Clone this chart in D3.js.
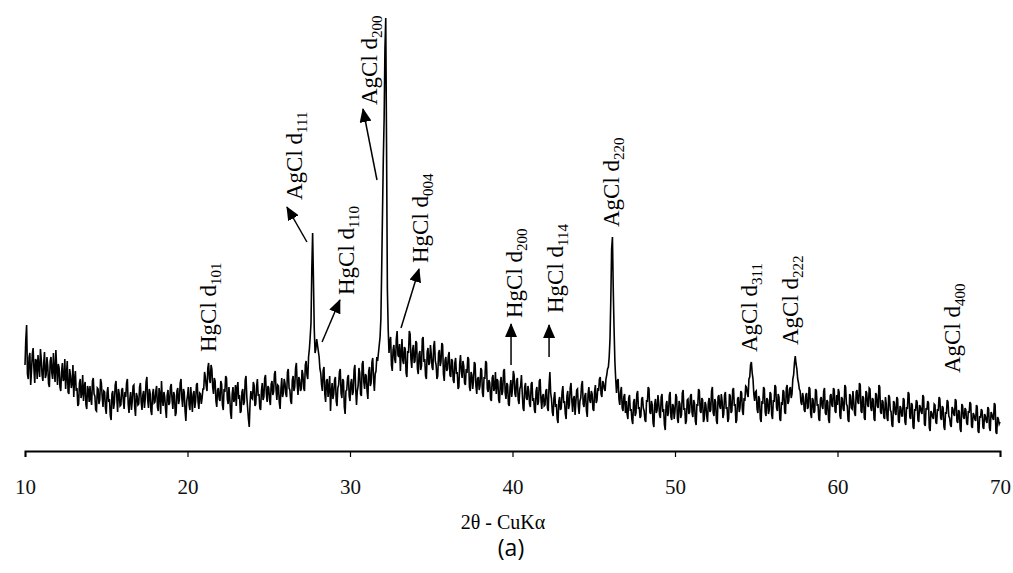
<!DOCTYPE html>
<html>
<head>
<meta charset="utf-8">
<script src="https://cdn.jsdelivr.net/npm/d3@7/dist/d3.min.js"></script>
<style>
	body { margin: 0; background: #fff; }
	#chart { width: 1013px; height: 573px; }
	svg text { font-family: "Liberation Serif", serif; }
</style>
</head>
<body>
<div id="chart"></div>
<script>
// XRD pattern, sampled every 0.05 degree (2 theta) from 10 to 70, one row per degree
var angleStart = 10;
var angleStep = 0.05;

var intensity = [
	84, 110, 124, 75, 70, 92, 96, 64, 78, 95, 101, 80, 66, 90, 88, 70, 94, 82, 72, 100,
	90, 74, 68, 86, 97, 71, 74, 92, 83, 65, 62, 88, 92, 76, 70, 96, 79, 67, 99, 81,
	64, 85, 81, 62, 58, 77, 86, 68, 70, 90, 60, 74, 88, 57, 55, 80, 73, 61, 66, 84,
	52, 70, 78, 58, 61, 43, 45, 66, 70, 51, 56, 74, 48, 62, 67, 44, 40, 63, 59, 47,
	63, 50, 44, 68, 71, 55, 53, 39, 38, 61, 60, 45, 49, 70, 66, 52, 42, 58, 57, 41,
	35, 56, 62, 47, 50, 33, 29, 55, 58, 40, 46, 64, 68, 51, 37, 60, 55, 43, 44, 59,
	61, 48, 40, 57, 52, 66, 70, 45, 36, 50, 57, 39, 48, 63, 64, 42, 33, 56, 53, 44,
	45, 62, 66, 47, 39, 54, 58, 41, 50, 67, 72, 49, 41, 60, 56, 38, 34, 55, 60, 46,
	47, 58, 63, 42, 38, 61, 55, 35, 68, 50, 43, 57, 52, 40, 31, 54, 59, 44, 46, 62,
	65, 49, 40, 57, 54, 33, 36, 58, 61, 45, 49, 66, 70, 51, 42, 60, 57, 38, 28, 48,
	53, 62, 44, 39, 62, 50, 37, 55, 58, 41, 48, 64, 66, 47, 40, 56, 55, 45, 51, 60,
	60, 77, 72, 63, 58, 81, 86, 70, 66, 84, 80, 62, 55, 71, 68, 48, 42, 59, 61, 50,
	48, 68, 65, 44, 39, 60, 57, 73, 71, 50, 45, 62, 52, 36, 30, 55, 62, 47, 50, 64,
	43, 61, 67, 50, 54, 36, 38, 57, 60, 44, 47, 69, 73, 52, 41, 30, 22, 46, 58, 51,
	50, 67, 64, 43, 45, 62, 70, 53, 55, 41, 39, 58, 66, 49, 52, 71, 74, 56, 47, 63,
	61, 49, 44, 65, 68, 54, 57, 75, 78, 59, 49, 64, 63, 46, 40, 60, 71, 52, 56, 70,
	66, 55, 52, 77, 80, 61, 59, 48, 45, 69, 73, 58, 62, 81, 86, 65, 54, 72, 69, 58,
	60, 79, 75, 61, 58, 84, 88, 74, 70, 92, 100, 112, 126, 180, 216, 170, 120, 96, 100, 110,
	104, 98, 92, 80, 76, 64, 58, 79, 82, 55, 47, 68, 70, 52, 61, 73, 38, 57, 66, 50,
	55, 69, 72, 48, 43, 61, 64, 77, 80, 56, 51, 70, 68, 42, 35, 58, 59, 71, 74, 53,
	48, 66, 70, 54, 57, 79, 84, 60, 44, 58, 63, 81, 76, 55, 53, 85, 88, 67, 60, 75,
	73, 58, 50, 78, 82, 63, 66, 87, 91, 70, 58, 75, 78, 92, 88, 96, 104, 112, 130, 180,
	236, 290, 330, 400, 431, 300, 160, 120, 96, 108, 112, 84, 78, 99, 104, 90, 86, 110, 118, 94,
	92, 105, 78, 96, 110, 88, 85, 102, 100, 76, 72, 98, 96, 118, 115, 90, 81, 99, 104, 86,
	88, 108, 106, 80, 75, 95, 98, 79, 83, 110, 112, 87, 90, 73, 70, 97, 101, 84, 86, 104,
	95, 82, 79, 103, 108, 88, 84, 70, 73, 96, 99, 83, 87, 106, 104, 75, 68, 89, 92, 78,
	80, 93, 97, 74, 72, 90, 88, 69, 66, 86, 91, 75, 77, 60, 62, 85, 94, 78, 71, 88,
	83, 66, 64, 80, 76, 92, 90, 62, 58, 77, 74, 60, 68, 87, 85, 63, 55, 70, 72, 59,
	63, 81, 79, 56, 52, 72, 70, 88, 86, 60, 57, 69, 66, 50, 48, 71, 74, 58, 61, 77,
	55, 70, 68, 49, 46, 67, 72, 54, 58, 78, 80, 56, 50, 66, 64, 45, 43, 62, 69, 52,
	60, 78, 74, 55, 52, 68, 71, 49, 45, 60, 63, 74, 56, 41, 38, 62, 66, 51, 49, 63,
	58, 45, 42, 65, 67, 48, 51, 39, 36, 58, 62, 44, 47, 68, 70, 50, 40, 53, 55, 43,
	44, 58, 60, 41, 38, 64, 77, 56, 50, 37, 33, 51, 57, 42, 45, 30, 26, 48, 52, 39,
	41, 57, 63, 46, 48, 35, 30, 53, 58, 40, 44, 61, 66, 49, 37, 50, 53, 34, 47, 59,
	60, 43, 35, 48, 51, 64, 68, 45, 42, 53, 56, 38, 32, 55, 62, 49, 46, 58, 55, 40,
	38, 57, 64, 46, 49, 61, 58, 70, 72, 55, 52, 68, 66, 60, 58, 70, 74, 80, 82, 92,
	110, 150, 200, 212, 160, 120, 88, 70, 56, 68, 70, 50, 44, 57, 62, 41, 38, 52, 55, 36,
	48, 35, 30, 51, 54, 38, 40, 29, 25, 47, 50, 33, 36, 55, 58, 40, 42, 31, 33, 50,
	52, 41, 38, 29, 27, 49, 47, 62, 60, 37, 35, 48, 44, 26, 22, 45, 50, 36, 39, 54,
	46, 34, 31, 52, 55, 37, 40, 24, 19, 44, 48, 33, 36, 54, 57, 32, 29, 45, 43, 30,
	38, 55, 52, 30, 26, 48, 45, 31, 34, 56, 59, 39, 41, 25, 28, 49, 50, 35, 37, 53,
	55, 36, 32, 49, 46, 28, 24, 45, 43, 60, 58, 38, 36, 51, 49, 27, 30, 47, 44, 33,
	27, 46, 51, 37, 39, 58, 62, 36, 33, 50, 47, 28, 25, 52, 54, 43, 40, 55, 48, 31,
	35, 54, 57, 40, 42, 27, 30, 55, 53, 36, 38, 59, 61, 43, 45, 26, 29, 50, 52, 37,
	41, 58, 56, 38, 34, 51, 48, 63, 62, 55, 52, 70, 72, 84, 87, 76, 70, 55, 48, 57,
	58, 40, 36, 53, 50, 30, 27, 48, 45, 62, 60, 37, 33, 51, 49, 35, 39, 57, 55, 34,
	30, 49, 47, 64, 62, 41, 38, 55, 52, 30, 28, 47, 44, 59, 57, 37, 35, 61, 64, 45,
	48, 60, 62, 51, 55, 70, 74, 86, 93, 85, 80, 70, 66, 60, 58, 47, 44, 56, 52, 39,
	37, 54, 56, 40, 42, 62, 60, 35, 31, 51, 49, 36, 38, 60, 58, 43, 45, 30, 28, 50,
	52, 43, 40, 58, 61, 36, 34, 49, 47, 29, 26, 53, 55, 44, 42, 61, 59, 38, 36, 54,
	44, 60, 57, 33, 30, 52, 50, 40, 38, 64, 62, 45, 43, 29, 27, 55, 53, 41, 40, 58,
	48, 36, 33, 57, 59, 47, 45, 66, 64, 38, 36, 53, 51, 31, 29, 58, 56, 44, 42, 61,
	60, 41, 38, 51, 49, 30, 28, 56, 54, 43, 41, 64, 62, 37, 35, 49, 47, 32, 30, 52,
	45, 31, 28, 54, 52, 39, 37, 24, 22, 48, 46, 36, 34, 52, 50, 28, 26, 43, 41, 33,
	33, 51, 49, 27, 24, 42, 40, 57, 55, 32, 30, 46, 44, 22, 20, 40, 38, 49, 47, 29,
	27, 44, 42, 37, 35, 54, 52, 25, 23, 41, 39, 48, 46, 21, 18, 38, 36, 32, 30, 45,
	44, 27, 25, 40, 38, 52, 50, 31, 29, 43, 41, 22, 19, 37, 35, 49, 47, 33, 31, 24,
	22, 42, 40, 35, 33, 50, 48, 28, 26, 39, 37, 20, 17, 45, 43, 32, 30, 41, 39, 26,
	24, 38, 36, 47, 45, 23, 21, 36, 34, 30, 28, 44, 42, 18, 16, 33, 31, 40, 38, 22,
	20, 35, 33, 28, 26, 42, 40, 21, 18, 37, 35, 31, 29, 46, 44, 17, 15, 32, 30, 25,
	27
];

var xTicks = [10, 20, 30, 40, 50, 60, 70];

// peak labels: phase, reflection, and where the label starts (2 theta, intensity)
var peakPhase = ["HgCl", "AgCl", "HgCl", "AgCl", "HgCl", "HgCl", "HgCl", "AgCl", "AgCl", "AgCl", "AgCl"];
var peakHkl   = ["101", "111", "110", "200", "004", "200", "114", "220", "311", "222", "400"];
var labelAngle = [21.75, 27.05, 30.25, 31.66, 34.80, 40.58, 43.11, 46.55, 55.05, 57.57, 67.54];
var labelLevel = [97, 249, 154, 344, 186, 131, 136, 222, 97, 104, 76];

// arrows: from (2 theta, intensity) to (2 theta, intensity)
var arrowFrom = [[27.35, 207], [28.28, 107], [31.66, 269], [33.14, 121], [39.91, 84], [42.25, 92]];
var arrowTo   = [[26.12, 242], [29.38, 149], [30.80, 340], [34.25, 180], [39.91, 125], [42.25, 124]];

var width = 1013, height = 573;

var svg = d3.select("#chart").append("svg")
	.attr("width", width)
	.attr("height", height);

var x = d3.scaleLinear().domain([10, 70]).range([25, 1000]);
var y = d3.scaleLinear().domain([-2, 431]).range([451, 18]);

var points = intensity.map(function(v, i) { return [angleStart + i * angleStep, v]; });

//the pattern itself
svg.append("path")
	.datum(points)
	.attr("fill", "none")
	.attr("stroke", "#000")
	.attr("stroke-width", 1.6)
	.attr("d", d3.line()
		.x(function(d) { return x(d[0]); })
		.y(function(d) { return y(d[1]); }));

//x axis
var axis = svg.append("g")
	.attr("transform", "translate(0," + y(-2) + ")")
	.call(d3.axisBottom(x).tickValues(xTicks).tickSizeOuter(0).tickSize(6).tickPadding(22));

axis.select(".domain").attr("stroke-width", 2);
axis.selectAll(".tick line").attr("stroke-width", 1.2);
axis.selectAll(".tick text")
	.style("font-family", "'Liberation Serif', serif")
	.style("font-size", "21px")
	.attr("fill", "#111");

svg.append("text")
	.attr("x", 503)
	.attr("y", 529)
	.attr("text-anchor", "middle")
	.style("font-family", "'Liberation Serif', serif")
	.style("font-size", "20px")
	.text("2θ - CuKα");

svg.append("text")
	.attr("x", 511)
	.attr("y", 556)
	.attr("text-anchor", "middle")
	.style("font-family", "'Open Sans', sans-serif")
	.style("font-size", "23px")
	.text("(a)");

//arrow head
svg.append("defs").append("marker")
	.attr("id", "head")
	.attr("markerUnits", "userSpaceOnUse")
	.attr("viewBox", "0 0 14 12")
	.attr("markerWidth", 14)
	.attr("markerHeight", 12)
	.attr("refX", 13)
	.attr("refY", 6)
	.attr("orient", "auto")
	.append("path")
		.attr("d", "M0,0 L14,6 L0,12 Z")
		.attr("fill", "#000");

svg.append("g").selectAll("line")
	.data(arrowFrom)
	.enter()
		.append("line")
			.attr("x1", function(d) { return x(d[0]); })
			.attr("y1", function(d) { return y(d[1]); })
			.attr("x2", function(d, i) { return x(arrowTo[i][0]); })
			.attr("y2", function(d, i) { return y(arrowTo[i][1]); })
			.attr("stroke", "#000")
			.attr("stroke-width", 1.5)
			.attr("marker-end", "url(#head)");

//rotated peak labels
var labels = svg.append("g").selectAll("text")
	.data(peakPhase)
	.enter()
		.append("text")
			.attr("transform", function(d, i) { return "translate(" + x(labelAngle[i]) + "," + y(labelLevel[i]) + ") rotate(-90)"; })
			.style("font-family", "'Liberation Serif', serif")
			.style("font-size", "23px")
			.attr("fill", "#000");

labels.append("tspan").text(function(d) { return d + " d"; });
labels.append("tspan")
	.style("font-size", "15px")
	.attr("dy", 5)
	.text(function(d, i) { return peakHkl[i]; });
</script>
</body>
</html>
